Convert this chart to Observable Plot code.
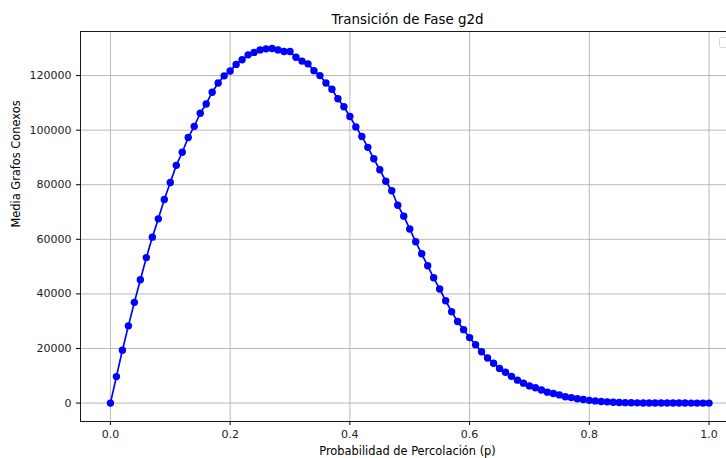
<!DOCTYPE html>
<html>
<head>
<meta charset="utf-8">
<script src="https://cdn.jsdelivr.net/npm/d3@7"></script>
<script src="https://cdn.jsdelivr.net/npm/@observablehq/plot@0.6"></script>
<style>
  html, body { margin: 0; padding: 0; background: #fff; }
  #chart { position: relative; width: 726px; height: 458px; overflow: hidden; }
</style>
</head>
<body>
<div id="chart"></div>
<script>
const title = "Transición de Fase g2d";
const xLabel = "Probabilidad de Percolación (p)";
const yLabel = "Media Grafos Conexos";

const prob = [
  0.00, 0.01, 0.02, 0.03, 0.04, 0.05, 0.06, 0.07, 0.08, 0.09,
  0.10, 0.11, 0.12, 0.13, 0.14, 0.15, 0.16, 0.17, 0.18, 0.19,
  0.20, 0.21, 0.22, 0.23, 0.24, 0.25, 0.26, 0.27, 0.28, 0.29,
  0.30, 0.31, 0.32, 0.33, 0.34, 0.35, 0.36, 0.37, 0.38, 0.39,
  0.40, 0.41, 0.42, 0.43, 0.44, 0.45, 0.46, 0.47, 0.48, 0.49,
  0.50, 0.51, 0.52, 0.53, 0.54, 0.55, 0.56, 0.57, 0.58, 0.59,
  0.60, 0.61, 0.62, 0.63, 0.64, 0.65, 0.66, 0.67, 0.68, 0.69,
  0.70, 0.71, 0.72, 0.73, 0.74, 0.75, 0.76, 0.77, 0.78, 0.79,
  0.80, 0.81, 0.82, 0.83, 0.84, 0.85, 0.86, 0.87, 0.88, 0.89,
  0.90, 0.91, 0.92, 0.93, 0.94, 0.95, 0.96, 0.97, 0.98, 0.99,
  1.00
];

const mediaGrafos = [
  0, 9700, 19400, 28300, 36900, 45200, 53300, 60800, 67500, 74600,
  80800, 87100, 91900, 97300, 101400, 106200, 109600, 113900, 117300, 119900,
  121700, 124100, 125800, 127600, 128500, 129400, 129800, 129900, 129400, 128800,
  128800, 126700, 125300, 124300, 121800, 120000, 117300, 115000, 111500, 108600,
  105000, 101200, 97700, 93700, 89500, 85500, 81300, 77800, 72500, 68500,
  63800, 59100, 54700, 50300, 45900, 41800, 37500, 33500, 29900, 26900,
  24000, 21400, 18800, 16500, 14600, 12700, 11300, 9800, 8400, 7300,
  6300, 5600, 4800, 4000, 3500, 3000, 2300, 2000, 1600, 1300,
  1000, 800, 600, 450, 300, 200, 150, 120, 80, 50,
  30, 20, 15, 10, 6, 4, 2, 1, 1, 0,
  0
];

const xTicks = [0.0, 0.2, 0.4, 0.6, 0.8, 1.0];
const yTicks = [0, 20000, 40000, 60000, 80000, 100000, 120000];
const xDomain = [-0.05, 1.0292];
const yDomain = [-6750, 136150];

const data = prob.map((p, i) => ({p, v: mediaGrafos[i]}));

const font = "DejaVu Sans, sans-serif";
const gridStyle = {stroke: "#b0b0b0", strokeOpacity: 1, strokeWidth: 0.9};

const chart = Plot.plot({
  width: 726,
  height: 458,
  marginLeft: 80,
  marginRight: 0,
  marginTop: 31,
  marginBottom: 37,
  style: {fontFamily: font, fontSize: "11px", color: "#222", background: "#fff", overflow: "visible"},
  x: {domain: xDomain, ticks: xTicks},
  y: {domain: yDomain, ticks: yTicks},
  marks: [
    Plot.gridX(xTicks, gridStyle),
    Plot.gridY(yTicks, gridStyle),
    Plot.line(data, {x: "p", y: "v", stroke: "#0000ff", strokeWidth: 1.7}),
    Plot.dot(data, {x: "p", y: "v", r: 3.7, fill: "#0000ff", stroke: "none"}),
    Plot.ruleX([xDomain[0]], {stroke: "#000", strokeWidth: 0.9}),
    Plot.ruleY([yDomain[0]], {stroke: "#000", strokeWidth: 0.9}),
    Plot.ruleY([yDomain[1]], {stroke: "#000", strokeWidth: 0.9}),
    Plot.axisX(xTicks, {tickSize: 4, tickPadding: 5, tickFormat: d => d.toFixed(1), label: null, fontSize: 11, stroke: "#000"}),
    Plot.axisY(yTicks, {tickSize: 4, tickPadding: 5, tickFormat: d => String(d), label: null, fontSize: 11, stroke: "#000"}),
    Plot.text([title], {frameAnchor: "top", lineAnchor: "middle", dx: 4, dy: -12, fontSize: 13.4, fill: "#000"}),
    Plot.text([xLabel], {frameAnchor: "bottom", lineAnchor: "middle", dx: 4, dy: 30, fontSize: 11.4, fill: "#000"}),
    Plot.text([yLabel], {frameAnchor: "left", lineAnchor: "middle", dx: -64, dy: 1, rotate: -90, fontSize: 11.4, fill: "#000"})
  ]
});

// empty legend box in the upper-right corner (clipped by the figure edge)
d3.select(chart).append("rect")
  .attr("x", 719.5).attr("y", 37.5)
  .attr("width", 14).attr("height", 10)
  .attr("rx", 2)
  .attr("fill", "#fff").attr("fill-opacity", 0.8)
  .attr("stroke", "#d6d6d6").attr("stroke-width", 1);

document.getElementById("chart").appendChild(chart);
</script>
</body>
</html>
